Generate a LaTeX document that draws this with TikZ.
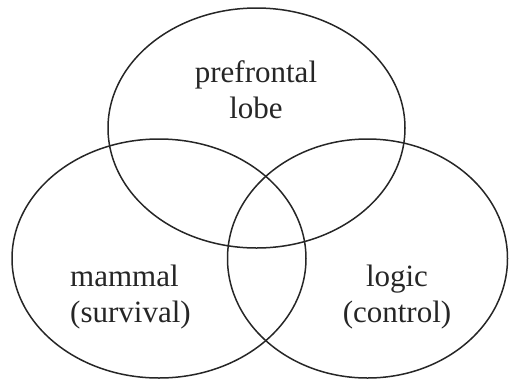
\documentclass[tikz,border=0pt]{standalone}
\usepackage{fontspec}
\setmainfont{Liberation Serif}
\usetikzlibrary{shapes.geometric}
\begin{document}
\begin{tikzpicture}[x=1pt,y=-1pt,
  region/.style={draw=black!85,line width=1.5pt,ellipse,inner sep=0pt},
  label/.style={font=\fontsize{31}{36}\selectfont,text=black!85,inner sep=0pt,anchor=base}]
\useasboundingbox (0,0) rectangle (509,381);
\node[region,minimum width=297pt,minimum height=240pt] (pfl) at (256.5,128) {};
\node[region,minimum width=294pt,minimum height=239pt] (mam) at (159,258.5) {};
\node[region,minimum width=280pt,minimum height=239pt] (log) at (367.5,258.5) {};
\node[label,align=center] (tpfl) at (256,118) {prefrontal\\lobe};
\node[label,align=left,anchor=base west] (tmam) at (70,322) {mammal\\(survival)};
\node[label,align=center] (tlog) at (397,322) {logic\\(control)};
\end{tikzpicture}
\end{document}
